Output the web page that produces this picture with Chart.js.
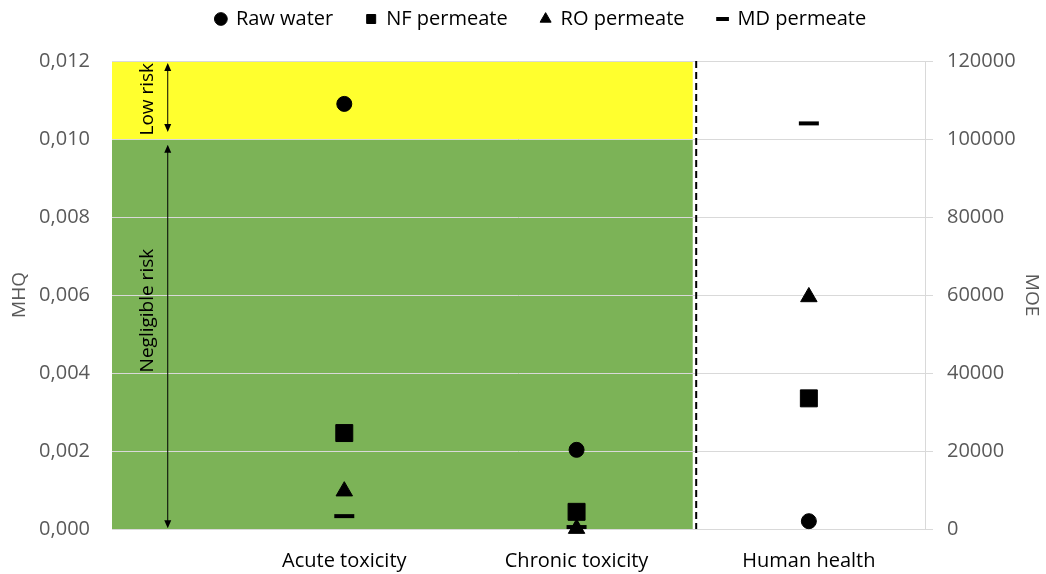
<!DOCTYPE html>
<html>
<head>
<meta charset="utf-8">
<script src="https://cdn.jsdelivr.net/npm/chart.js@4.4.1/dist/chart.umd.min.js"></script>
<style>
  body { margin: 0; background: #fff; }
</style>
</head>
<body>
<canvas id="myChart" width="1046" height="574"></canvas>
<script>
const categories = ['Acute toxicity', 'Chronic toxicity', 'Human health']
const seriesNames = ['Raw water', 'NF permeate', 'RO permeate', 'MD permeate']

// MHQ values (left axis) for acute and chronic toxicity
const rawWaterMHQ = [0.0109, 0.00203]
const nfPermeateMHQ = [0.00246, 0.00044]
const roPermeateMHQ = [0.00097, 0.00001]
const mdPermeateMHQ = [0.00033, 0.00005]

// MOE values (right axis) for human health
const rawWaterMOE = [2000]
const nfPermeateMOE = [33500]
const roPermeateMOE = [59500]
const mdPermeateMOE = [104000]

const mhqTicks = [0, 0.002, 0.004, 0.006, 0.008, 0.010, 0.012]
const moeTicks = [0, 20000, 40000, 60000, 80000, 100000, 120000]

// risk zones on the MHQ axis
const lowRisk = [0.010, 0.012]
const negligibleRisk = [0, 0.010]

const FONT = 'Open Sans'

const styles = [
    {pointStyle: 'circle', radius: 7.5, borderWidth: 1},
    {pointStyle: 'rect', radius: 12, borderWidth: 1},
    {pointStyle: 'triangle', radius: 9.5, borderWidth: 1},
    {pointStyle: 'line', radius: 10, borderWidth: 4}
]
const mhqSets = [rawWaterMHQ, nfPermeateMHQ, roPermeateMHQ, mdPermeateMHQ]
const moeSets = [rawWaterMOE, nfPermeateMOE, roPermeateMOE, mdPermeateMOE]

let datasets = []
seriesNames.forEach((name, i) => {
    datasets.push({
        label: name,
        data: mhqSets[i].map((v, j) => ({x: j + 1, y: v})),
        yAxisID: 'y',
        backgroundColor: '#000',
        borderColor: '#000',
        borderWidth: styles[i].borderWidth,
        pointStyle: styles[i].pointStyle,
        pointRadius: styles[i].radius,
        pointHoverRadius: styles[i].radius,
        clip: false
    })
})
seriesNames.forEach((name, i) => {
    datasets.push({
        label: name + ' (MOE)',
        data: moeSets[i].map(v => ({x: 3, y: v})),
        yAxisID: 'y1',
        backgroundColor: '#000',
        borderColor: '#000',
        borderWidth: styles[i].borderWidth,
        pointStyle: styles[i].pointStyle,
        pointRadius: styles[i].radius,
        pointHoverRadius: styles[i].radius,
        clip: false
    })
})

function arrow(ctx, x, y1, y2) {
    ctx.beginPath()
    ctx.moveTo(x, y1 + 6)
    ctx.lineTo(x, y2 - 6)
    ctx.stroke()
    ctx.beginPath()
    ctx.moveTo(x, y1); ctx.lineTo(x - 3.5, y1 + 8); ctx.lineTo(x + 3.5, y1 + 8); ctx.closePath()
    ctx.moveTo(x, y2); ctx.lineTo(x - 3.5, y2 - 8); ctx.lineTo(x + 3.5, y2 - 8); ctx.closePath()
    ctx.fill()
}

function vText(ctx, txt, x, y) {
    ctx.save()
    ctx.translate(x, y)
    ctx.rotate(-Math.PI / 2)
    ctx.fillText(txt, 0, 0)
    ctx.restore()
}

// legend sits high and a bit right of centre, plot starts lower
const legendBox = {
    id: 'legendBox',
    afterInit(chart) {
        const l = chart.legend
        const fit = l.fit.bind(l)
        l.fit = function() { fit(); this.height = 85 }
    },
    afterLayout(chart) {
        chart.legend.left += 36
    }
}

const zones = {
    id: 'zones',
    beforeDraw(chart) {
        const {ctx, scales: {x, y}} = chart
        const x0 = x.getPixelForValue(0), x1 = x.getPixelForValue(2.5)
        ctx.save()
        ctx.fillStyle = '#ffff2e'
        ctx.fillRect(x0, y.getPixelForValue(lowRisk[1]), x1 - x0, y.getPixelForValue(lowRisk[0]) - y.getPixelForValue(lowRisk[1]))
        ctx.fillStyle = '#7cb357'
        ctx.fillRect(x0, y.getPixelForValue(negligibleRisk[1]), x1 - x0, y.getPixelForValue(negligibleRisk[0]) - y.getPixelForValue(negligibleRisk[1]))
        ctx.restore()
    },
    beforeDatasetsDraw(chart) {
        const {ctx, chartArea, scales: {x, y}} = chart
        ctx.save()
        // dashed divider
        ctx.strokeStyle = '#000'
        ctx.lineWidth = 2
        ctx.setLineDash([7, 4])
        const xd = x.getPixelForValue(2.515)
        ctx.beginPath()
        ctx.moveTo(xd, chartArea.top)
        ctx.lineTo(xd, chartArea.bottom)
        ctx.stroke()
        ctx.setLineDash([])
        // arrows
        ctx.lineWidth = 1
        ctx.fillStyle = '#000'
        const xa = x.getPixelForValue(0.24)
        arrow(ctx, xa, y.getPixelForValue(0.01195), y.getPixelForValue(0.01018))
        arrow(ctx, xa, y.getPixelForValue(0.00985), y.getPixelForValue(0.00002))
        // labels
        ctx.font = '19px "' + FONT + '"'
        ctx.textAlign = 'center'
        ctx.textBaseline = 'middle'
        const xt = x.getPixelForValue(0.155)
        vText(ctx, 'Low risk', xt, y.getPixelForValue(0.01102))
        vText(ctx, 'Negligible risk', xt, y.getPixelForValue(0.0056))
        ctx.restore()
    }
}

var ctx = document.getElementById('myChart').getContext('2d')
window.chart = new Chart(ctx, {
    type: 'scatter',
    data: {datasets: datasets},
    plugins: [legendBox, zones],
    options: {
        responsive: false,
        animation: false,
        layout: {padding: {top: -24}},
        plugins: {
            tooltip: {enabled: false},
            legend: {
                position: 'top',
                labels: {
                    filter: item => item.datasetIndex < 4,
                    usePointStyle: true,
                    boxHeight: 9,
                    boxWidth: 10,
                    padding: 33,
                    color: '#000',
                    font: {family: FONT, size: 20}
                }
            }
        },
        scales: {
            x: {
                type: 'linear',
                min: 0,
                max: 3.5,
                afterBuildTicks: s => { s.ticks = [1, 2, 3].map(v => ({value: v})) },
                afterFit: s => { s.height = 45 },
                grid: {display: false},
                border: {color: '#d9d9d9'},
                ticks: {
                    callback: v => categories[v - 1],
                    padding: 12,
                    color: '#000',
                    font: {family: FONT, size: 20}
                }
            },
            y: {
                position: 'left',
                min: 0,
                max: 0.012,
                afterBuildTicks: s => { s.ticks = mhqTicks.map(v => ({value: v})) },
                afterFit: s => { s.width = 112 },
                grid: {color: '#d9d9d9', drawTicks: false},
                border: {display: false},
                title: {display: true, text: 'MHQ', color: '#595959', font: {family: FONT, size: 19}, padding: {top: 8, bottom: 0}},
                ticks: {
                    callback: v => v.toFixed(3).replace('.', ','),
                    padding: 22,
                    color: '#595959',
                    font: {family: FONT, size: 20}
                }
            },
            y1: {
                position: 'right',
                min: 0,
                max: 120000,
                afterBuildTicks: s => { s.ticks = moeTicks.map(v => ({value: v})) },
                afterFit: s => { s.width = 121 },
                grid: {drawOnChartArea: false, color: '#d9d9d9', tickLength: 8},
                border: {color: '#d9d9d9'},
                title: {display: true, text: 'MOE', color: '#595959', font: {family: FONT, size: 19}, padding: {top: 3, bottom: 0}},
                ticks: {
                    callback: v => String(v),
                    padding: 14,
                    color: '#595959',
                    font: {family: FONT, size: 20}
                }
            }
        }
    }
})
</script>
</body>
</html>
